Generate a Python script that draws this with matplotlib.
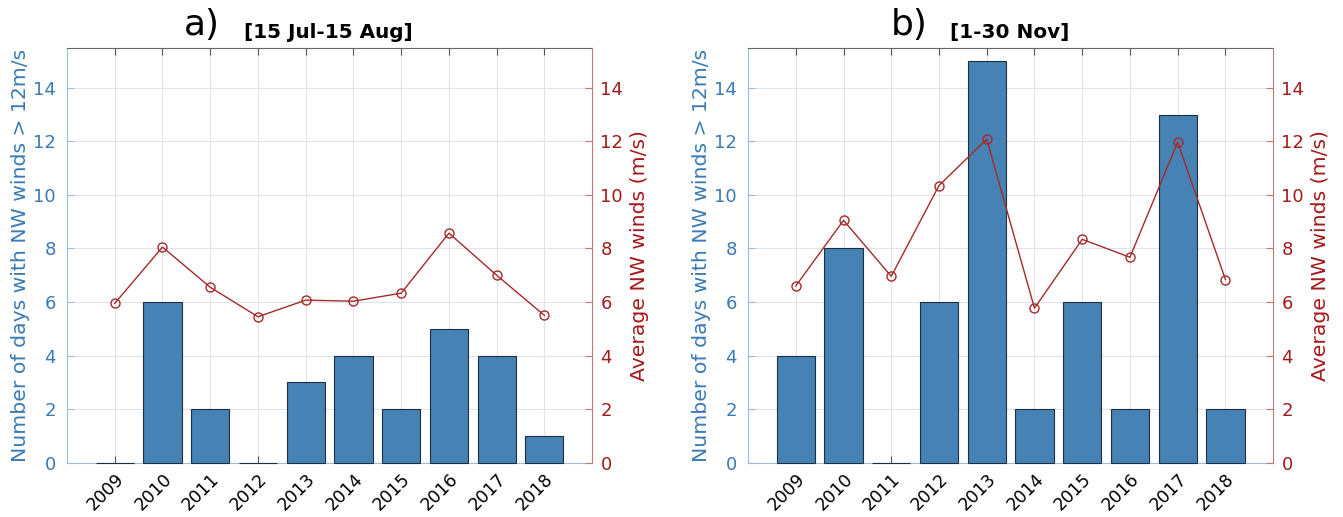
import matplotlib
matplotlib.use('Agg')
import matplotlib.pyplot as plt

years = [2009, 2010, 2011, 2012, 2013, 2014, 2015, 2016, 2017, 2018]

# days with NW winds > 12 m/s
days_a = [0, 6, 2, 0, 3, 4, 2, 5, 4, 1]
days_b = [4, 8, 0, 6, 15, 2, 6, 2, 13, 2]

# average NW wind speed (m/s)
wind_a = [5.95, 8.05, 6.55, 5.45, 6.07, 6.03, 6.33, 8.57, 7.0, 5.5]
wind_b = [6.6, 9.05, 6.96, 10.35, 12.08, 5.77, 8.34, 7.67, 11.97, 6.84]

letters = ['a)', 'b)']
periods = ['[15 Jul-15 Aug]', '[1-30 Nov]']

bar_color = '#4682b4'
blue_txt = '#3a7ab5'
red_line = '#a52a2a'
red_txt = '#a31a1a'

plt.rcParams['font.family'] = 'DejaVu Sans'

fig = plt.figure(figsize=(13.43, 5.17), dpi=100)
lefts = [0.0499, 0.557]
# x positions (axes fraction) of the letter and the period label
title_x = [(0.222, 0.337), (0.272, 0.384)]


def panel(left, days, wind, letter, period, tx):
    ax = fig.add_axes([left, 0.105, 0.391, 0.803])
    ax.bar(years, days, width=0.8, color=bar_color, edgecolor='#1f2f3f',
           linewidth=0.8, zorder=3, clip_on=False)
    ax.set_xlim(2008, 2019)
    ax.set_ylim(0, 15.5)
    ax.set_xticks(years)
    ax.set_xticklabels([str(y) for y in years], rotation=45, ha='right',
                       va='top', rotation_mode='anchor', fontsize=12.5)
    ax.set_yticks(range(0, 15, 2))
    ax.grid(True, color='#dfe3ea', linewidth=0.8, zorder=0)
    ax.set_axisbelow(True)
    ax.tick_params(axis='x', direction='in', top=True, length=5,
                   color='#555555', labelcolor='black', pad=5)
    ax.tick_params(axis='y', direction='in', length=5, color='#9dbcd8',
                   labelcolor=blue_txt, labelsize=13, pad=8)
    ax.spines['left'].set_color('#9dbcd8')
    ax.spines['bottom'].set_color('#9dbcd8')
    ax.spines['top'].set_color('#666666')
    ax.spines['right'].set_visible(False)
    ax.set_ylabel('Number of days with NW winds > 12m/s', color=blue_txt,
                  fontsize=14.7)
    ax.yaxis.set_label_coords(-0.07, 0.5)

    ax2 = ax.twinx()
    ax2.plot(years, wind, color=red_line, linewidth=1.0, marker='o',
             markersize=6.5, markerfacecolor='none', markeredgecolor=red_line,
             markeredgewidth=1.0, zorder=3)
    ax2.set_ylim(0, 15.5)
    ax2.set_yticks(range(0, 15, 2))
    ax2.tick_params(axis='y', direction='in', length=5, color='#c07a7a',
                    labelcolor=red_txt, labelsize=13, pad=6)
    ax2.spines['right'].set_color('#c07a7a')
    ax2.spines['left'].set_visible(False)
    ax2.spines['top'].set_visible(False)
    ax2.spines['bottom'].set_visible(False)
    ax2.set_ylabel('Average NW winds (m/s)', color=red_txt, fontsize=14.7)
    ax2.yaxis.set_label_coords(1.072, 0.5)

    # panel title: big letter followed by the bold period label
    ax.text(tx[0], 1.031, letter, transform=ax.transAxes, fontsize=26,
            ha='left', va='baseline')
    ax.text(tx[1], 1.024, period, transform=ax.transAxes, fontsize=14.4,
            fontweight='bold', ha='left', va='baseline')


panel(lefts[0], days_a, wind_a, letters[0], periods[0], title_x[0])
panel(lefts[1], days_b, wind_b, letters[1], periods[1], title_x[1])

fig.savefig('out.png', dpi=100)
